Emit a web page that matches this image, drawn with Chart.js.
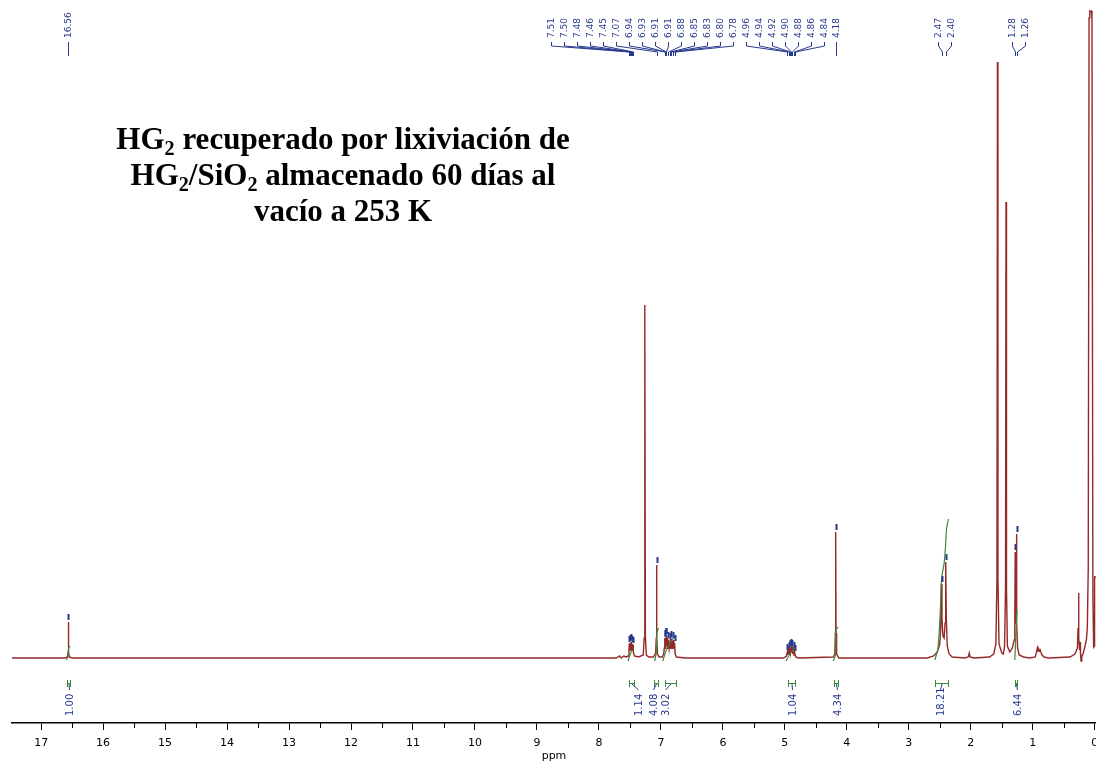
<!DOCTYPE html>
<html lang="es">
<head>
<meta charset="UTF-8">
<title>Espectro 1H RMN - HG2</title>
<style>
  body { margin: 0; background: #fff; }
  .wrap { position: relative; width: 1096px; height: 763px; }
  #titulo {
    position: absolute; left: 0; top: 121px; width: 686px; text-align: center;
    font-family: "Liberation Serif", "Times New Roman", serif; font-weight: bold;
    font-size: 31px; line-height: 36px; color: #000;
  }
  #titulo sub { font-size: 0.65em; line-height: 0; vertical-align: -0.3em; }
</style>
</head>
<body>
<div class="wrap">
  <canvas id="espectro" width="1096" height="763"></canvas>
  <div id="titulo">HG<sub>2</sub> recuperado por lixiviación de<br>HG<sub>2</sub>/SiO<sub>2</sub> almacenado 60 días al<br>vacío a 253 K</div>
</div>

<script src="https://cdn.jsdelivr.net/npm/chart.js"></script>
<script>
// traza del espectro: [ppm, intensidad]
const spectrum = [
  [17.47,0],[16.62,0],[16.575,1],[16.565,6],[16.56,36],[16.555,6],[16.545,1],[16.50,0],
  [7.72,0],[7.67,2],[7.64,0],[7.60,2],[7.56,1],
  [7.525,2],[7.515,8],[7.51,14],[7.505,7],[7.50,15],[7.495,8],[7.485,9],[7.48,16],[7.475,8],
  [7.465,8],[7.46,14],[7.455,9],[7.45,13],[7.445,6],[7.43,2],[7.36,1],
  [7.285,3],[7.27,20],[7.26,353],[7.25,20],[7.235,3],[7.20,1],[7.12,1],
  [7.085,5],[7.075,20],[7.07,93],[7.065,20],[7.055,4],[7.03,1],[6.98,1],
  [6.955,4],[6.945,10],[6.94,20],[6.935,12],[6.93,19],[6.922,9],[6.913,22],[6.907,12],[6.90,20],
  [6.89,9],[6.88,18],[6.867,9],[6.85,17],[6.84,9],[6.83,19],[6.815,9],[6.80,18],[6.79,9],[6.78,15],
  [6.77,4],[6.75,1],[6.60,0],
  [5.02,0],[4.975,2],[4.96,6],[4.952,3],[4.94,8],[4.932,4],[4.92,10],[4.91,5],[4.90,11],[4.89,5],
  [4.88,10],[4.87,4],[4.86,8],[4.852,3],[4.84,5],[4.825,1],[4.78,0],
  [4.22,1],[4.195,4],[4.185,25],[4.18,126],[4.175,25],[4.165,4],[4.13,0],
  [2.70,0],[2.60,2],[2.54,6],[2.50,14],[2.485,30],[2.475,74],[2.465,40],[2.45,22],[2.43,20],
  [2.415,35],[2.405,96],[2.395,40],[2.38,12],[2.35,4],[2.30,1],[2.10,0],[2.04,1],[2.025,5],[2.01,1],[1.95,0],
  [1.70,1],[1.63,4],[1.595,14],[1.578,80],[1.57,596],[1.562,80],[1.545,14],[1.50,5],[1.475,4],
  [1.455,12],[1.44,70],[1.432,456],[1.424,70],[1.41,12],[1.37,6],[1.33,10],[1.30,18],[1.29,40],
  [1.283,106],[1.276,40],[1.27,35],[1.264,124],[1.257,35],[1.245,10],[1.22,3],[1.15,1],[1.05,0],
  [0.96,1],[0.94,6],[0.925,10],[0.915,7],[0.905,9],[0.89,7],[0.88,8],[0.865,5],[0.85,3],[0.82,1],[0.75,0],
  [0.40,1],[0.32,4],[0.28,10],[0.27,30],[0.262,65],[0.255,20],[0.245,8],[0.238,16],[0.23,5],
  [0.222,-3],[0.21,1],[0.18,6],[0.15,14],[0.135,18],[0.12,30],[0.105,90],[0.092,640],[0.08,647],
  [0.055,647],[0.045,640],[0.03,60],[0.018,11],[0.008,12],[0.003,81],[-0.02,81]
];

// desplazamientos químicos marcados
const peakShifts = [16.56, 7.51, 7.50, 7.48, 7.46, 7.45, 7.07, 6.94, 6.93, 6.91, 6.91, 6.88, 6.85,
  6.83, 6.80, 6.78, 4.96, 4.94, 4.92, 4.90, 4.88, 4.86, 4.84, 4.18, 2.47, 2.40, 1.28, 1.26];

// integrales
const integralFrom = [16.59, 7.52, 7.11, 6.93, 4.95, 4.21, 2.57, 1.29];
const integralTo = [16.53, 7.44, 7.04, 6.75, 4.84, 4.14, 2.37, 1.25];
const integralValues = ['1.00', '1.14', '4.08', '3.02', '1.04', '4.34', '18.21', '6.44'];
const integralCurves = [
  [[16.59,-2],[16.565,2],[16.555,10],[16.53,12]],
  [[7.53,-3],[7.50,3],[7.47,7],[7.44,8]],
  [[7.10,-3],[7.075,5],[7.065,25],[7.04,30]],
  [[6.97,-3],[6.93,5],[6.90,10],[6.86,14],[6.82,18],[6.77,22]],
  [[4.98,-3],[4.93,3],[4.88,7],[4.82,9]],
  [[4.22,-3],[4.185,3],[4.175,28],[4.14,31]],
  [[2.58,-2],[2.53,10],[2.49,50],[2.47,80],[2.43,95],[2.41,110],[2.39,130],[2.36,139]],
  [[1.29,-2],[1.275,20],[1.265,35],[1.255,48]]
];

// ticks del eje
const majorTicks = [0,1,2,3,4,5,6,7,8,9,10,11,12,13,14,15,16,17];

const azul = '#283a8e';
const verde = '#3a8a3c';
const rojo = '#962828';

// grupos de etiquetas de picos (colocación)
const labelGroups = [
  { first: 0, count: 1, start: 16.56 },
  { first: 1, count: 15, start: 8.78 },
  { first: 16, count: 7, start: 5.63 },
  { first: 23, count: 1, start: 4.18 },
  { first: 24, count: 2, start: 2.525 },
  { first: 26, count: 2, start: 1.34 }
];
const integralLabelShift = [0, 6, -4, -6, 0, 0, -2, 0];

function alturaPico(ppm) {
  let h = 0;
  spectrum.forEach(p => { if (Math.abs(p[0] - ppm) <= 0.007 && p[1] > h) h = p[1]; });
  return h;
}

const anotaciones = {
  id: 'anotaciones',
  afterDraw(chart) {
    const ctx = chart.ctx;
    const sx = chart.scales.x, sy = chart.scales.y;
    const base = chart.chartArea.bottom;
    ctx.save();

    // ticks menores
    ctx.strokeStyle = '#000';
    ctx.lineWidth = 1;
    majorTicks.forEach(t => {
      const px = Math.round(sx.getPixelForValue(t + 0.5)) + 0.5;
      if (px < chart.chartArea.left) return;
      ctx.beginPath(); ctx.moveTo(px, base); ctx.lineTo(px, base + 5); ctx.stroke();
    });

    // etiquetas de picos
    ctx.strokeStyle = azul;
    ctx.fillStyle = azul;
    ctx.font = '9px "DejaVu Sans"';
    labelGroups.forEach(g => {
      const x0 = sx.getPixelForValue(g.start);
      for (let i = 0; i < g.count; i++) {
        const k = g.first + i;
        const lx = Math.round(x0 + i * 13) + 0.5;
        const px = Math.round(sx.getPixelForValue(peakShifts[k])) + 0.5;
        ctx.beginPath();
        ctx.moveTo(lx, 42); ctx.lineTo(lx, 46); ctx.lineTo(px, 52); ctx.lineTo(px, 56);
        ctx.stroke();
        ctx.save();
        ctx.translate(lx + 0.5, 38);
        ctx.rotate(-Math.PI / 2);
        ctx.textAlign = 'left';
        ctx.textBaseline = 'middle';
        ctx.fillText(peakShifts[k].toFixed(2), 0, 0);
        ctx.restore();
        // marca sobre el pico
        const top = sy.getPixelForValue(alturaPico(peakShifts[k]));
        ctx.fillRect(px - 1, top - 8, 2, 6);
      }
    });

    // integrales
    ctx.font = '10px "DejaVu Sans"';
    integralValues.forEach((val, i) => {
      const xa = Math.round(sx.getPixelForValue(integralFrom[i])) + 0.5;
      const xb = Math.round(sx.getPixelForValue(integralTo[i])) + 0.5;
      const mid = (xa + xb) / 2;
      const lx = Math.round(mid + integralLabelShift[i]) + 0.5;
      ctx.strokeStyle = verde;
      ctx.beginPath();
      ctx.moveTo(xa, 680); ctx.lineTo(xa, 687);
      ctx.moveTo(xb, 680); ctx.lineTo(xb, 687);
      ctx.moveTo(xa, 683.5); ctx.lineTo(xb, 683.5);
      ctx.stroke();
      ctx.strokeStyle = azul;
      ctx.beginPath();
      ctx.moveTo(mid, 684); ctx.lineTo(lx, 690);
      ctx.stroke();
      ctx.save();
      ctx.translate(lx + 0.5, 716);
      ctx.rotate(-Math.PI / 2);
      ctx.textAlign = 'left';
      ctx.textBaseline = 'middle';
      ctx.fillStyle = azul;
      ctx.fillText(val, 0, 0);
      ctx.restore();
    });

    ctx.restore();
  }
};

const datasets = [{
  data: spectrum.map(p => ({ x: p[0], y: p[1] })),
  borderColor: rojo,
  borderWidth: 1.4,
  pointRadius: 0,
  tension: 0,
  fill: false,
  order: 2
}];
integralCurves.forEach(c => {
  datasets.push({
    data: c.map(p => ({ x: p[0], y: p[1] })),
    borderColor: verde,
    borderWidth: 1.2,
    pointRadius: 0,
    tension: 0.3,
    fill: false,
    order: 1
  });
});

new Chart(document.getElementById('espectro'), {
  type: 'line',
  data: { datasets: datasets },
  options: {
    responsive: false,
    animation: false,
    events: [],
    layout: { padding: { left: 12, right: 0, top: 0, bottom: 0 } },
    plugins: { legend: { display: false }, tooltip: { enabled: false } },
    scales: {
      x: {
        type: 'linear',
        reverse: true,
        min: -0.02,
        max: 17.47,
        afterFit: s => { s.height = 40; s.paddingLeft = 0; s.paddingRight = 0; },
        border: { display: true, color: '#000', width: 1.5 },
        grid: { drawOnChartArea: false, drawTicks: true, tickLength: 7, tickColor: '#000' },
        ticks: {
          stepSize: 1,
          maxTicksLimit: 100,
          includeBounds: false,
          autoSkip: false,
          maxRotation: 0,
          padding: 7,
          color: '#000',
          font: { family: 'DejaVu Sans', size: 11 },
          callback: v => (majorTicks.includes(v) ? String(v) : '')
        },
        title: {
          display: true, text: 'ppm', color: '#000',
          font: { family: 'DejaVu Sans', size: 11 }, padding: 0
        }
      },
      y: { display: false, min: -65, max: 658 }
    }
  },
  plugins: [anotaciones]
});
</script>
</body>
</html>
